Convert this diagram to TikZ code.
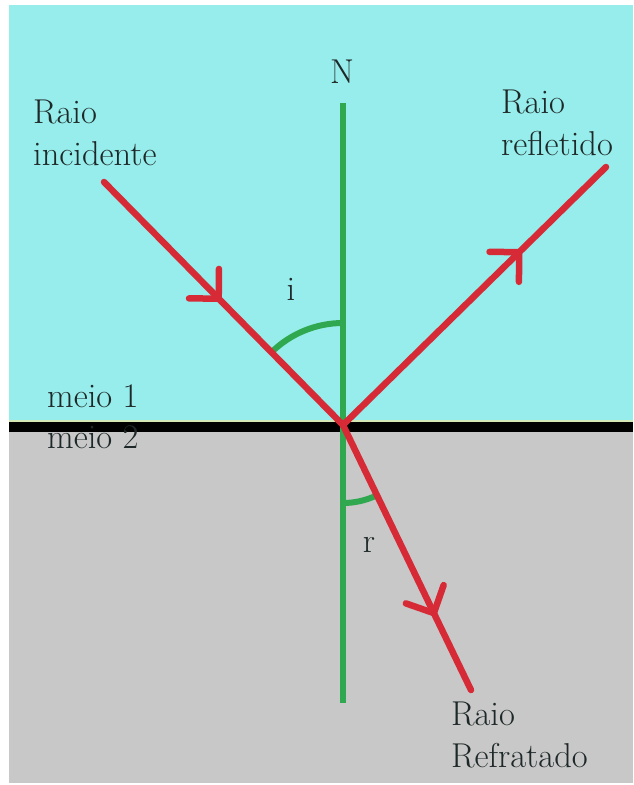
\documentclass[tikz,border=0pt]{standalone}
\usepackage{fontspec}
\usetikzlibrary{decorations.markings}
\definecolor{cyanbg}{HTML}{96EDEB}
\definecolor{graybg}{HTML}{C8C8C8}
\definecolor{raycol}{HTML}{D62B36}
\definecolor{normcol}{HTML}{30A850}
\definecolor{txtcol}{HTML}{1E2828}
\definecolor{edgecol}{HTML}{D3E8B6}
\tikzset{
  ray/.style={draw=raycol, line width=6.5pt, line cap=round},
  midarrow/.style={postaction={decorate}, decoration={markings,
      mark=at position #1 with {\draw[draw=raycol, line width=6.5pt, line cap=round, line join=round] (-21pt,21pt) -- (0pt,0pt) -- (-21pt,-21pt);}}},
  normalline/.style={draw=normcol, line width=6pt},
  anglearc/.style={draw=normcol, line width=6pt},
  lbl/.style={text=txtcol, font=\rmfamily\fontsize{34.5}{42}\selectfont, inner sep=0pt},
}
\begin{document}
\begin{tikzpicture}[x=1pt, y=-1pt]
  \useasboundingbox (0,0) rectangle (633,785);
  \fill[white] (0,0) rectangle (633,785);
  % media
  \fill[cyanbg] (9,5) rectangle (633,425);
  \fill[graybg] (9,425) rectangle (633,783);
  \draw[edgecol, line width=2pt] (9,420.5) -- (633,420.5);
  \draw[black, line width=10pt] (9,427) -- (633,427);
  % key points
  \coordinate (O) at (343,425);
  \coordinate (Ntop) at (343,103);
  \coordinate (Nbot) at (343,703);
  \coordinate (A) at (104,182);
  \coordinate (B) at (606,167);
  \coordinate (C) at (471,690);
  % normal
  \draw[normalline] (Ntop) -- (Nbot);
  % angle arcs
  \draw[anglearc] ([yshift=102pt]O) arc[start angle=270, end angle=225.5, radius=102];
  \draw[anglearc] ([yshift=-78pt]O) arc[start angle=90, end angle=64.2, radius=78];
  % rays
  \draw[ray, midarrow=0.48] (A) -- (O);
  \draw[ray, midarrow=0.67] (O) -- (B);
  \draw[ray, midarrow=0.71] (O) -- (C);
  % labels
  \node[lbl, anchor=base] (nlabel) at (342,83) {N};
  \node[lbl, anchor=base west] (inc) at (33,123) {\begin{tabular}[t]{@{}l@{}}Raio\\incidente\end{tabular}};
  \node[lbl, anchor=base west] (refl) at (501,113) {\begin{tabular}[t]{@{}l@{}}Raio\\refletido\end{tabular}};
  \node[lbl, anchor=base west] (refr) at (451,725) {\begin{tabular}[t]{@{}l@{}}Raio\\Refratado\end{tabular}};
  \node[lbl, anchor=base west] (m1) at (47,407) {meio 1};
  \node[lbl, anchor=base west] (m2) at (47,448) {meio 2};
  \node[lbl, anchor=base] (ilabel) at (291,300) {i};
  \node[lbl, anchor=base] (rlabel) at (369,552) {r};
\end{tikzpicture}
\end{document}
